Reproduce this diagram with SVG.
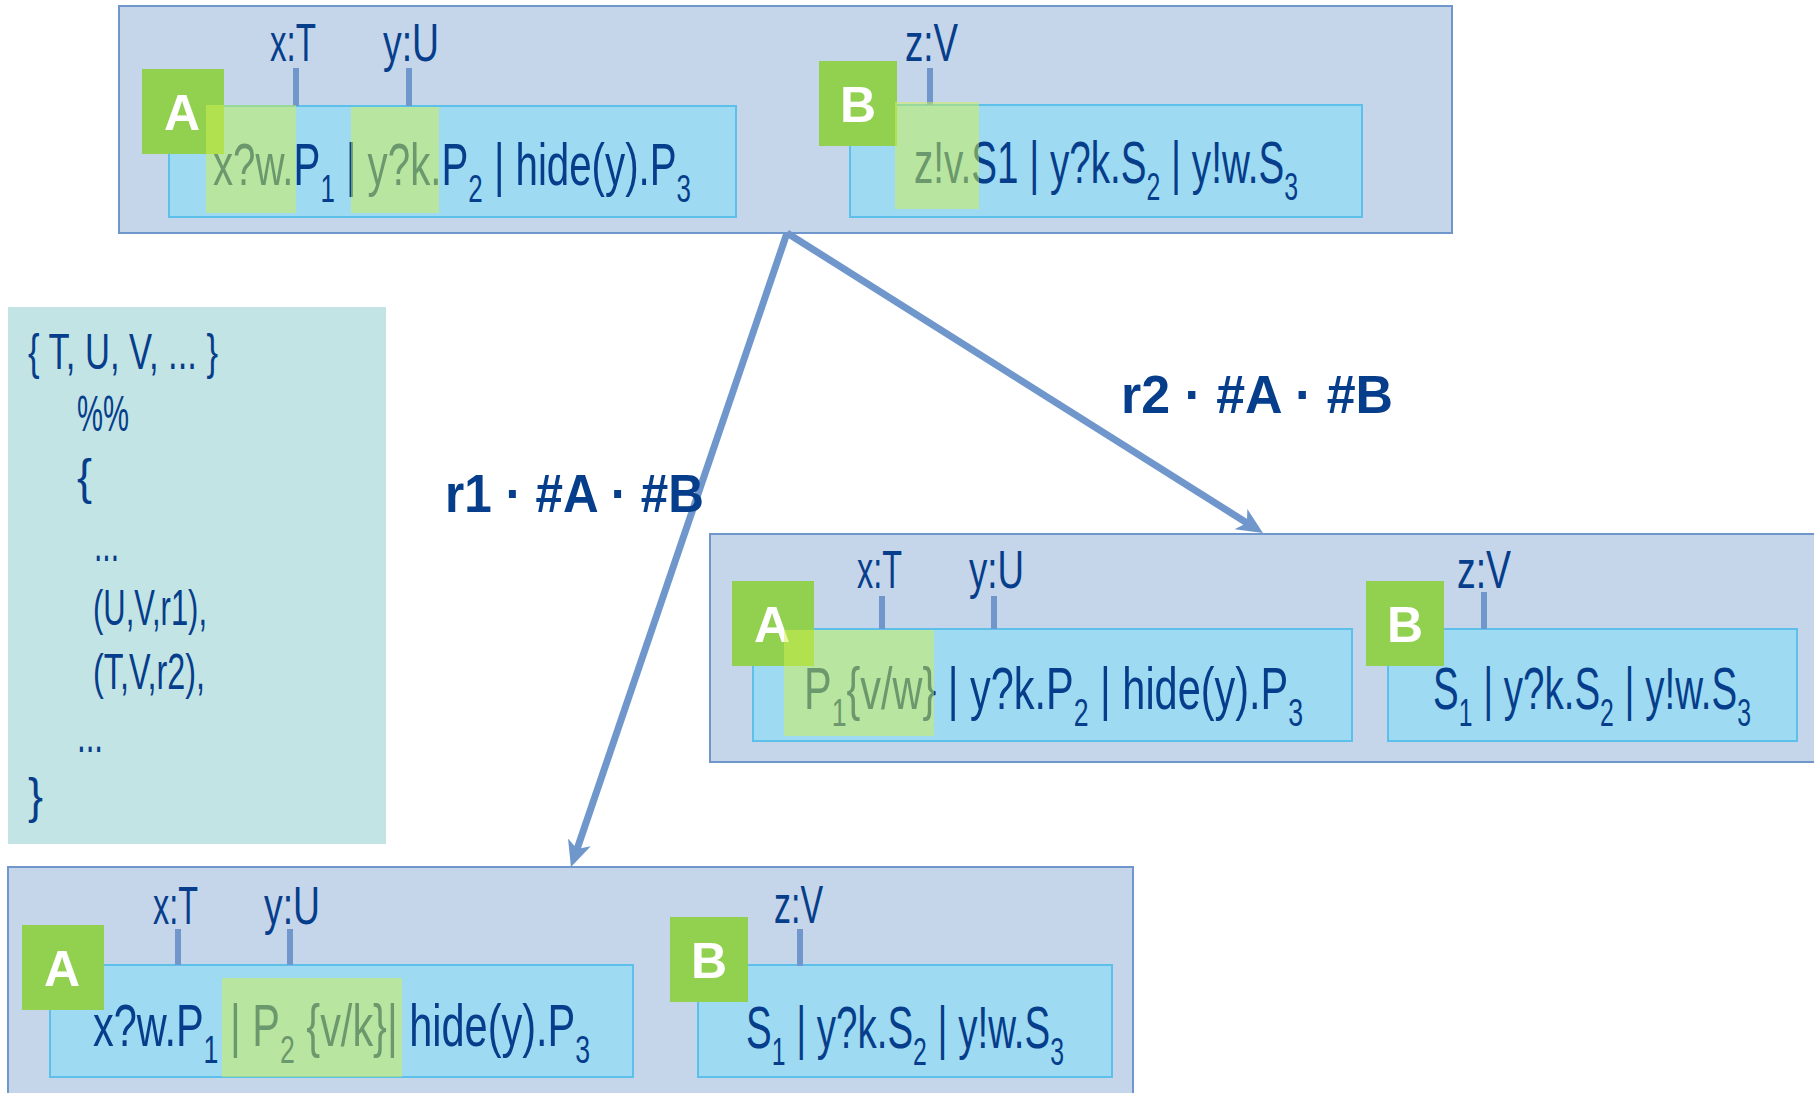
<svg xmlns="http://www.w3.org/2000/svg" width="1814" height="1093" viewBox="0 0 1814 1093">
<style>
.outer{fill:#c5d5ea;stroke:#7097cc;stroke-width:2}
.inner{fill:#9edbf2;stroke:#5cc0ea;stroke-width:2}
.badge{fill:#92d050}
.bl{fill:#ffffff;font-family:"Liberation Sans",Arial,sans-serif;font-weight:bold;font-size:50px;text-anchor:middle}
.hl{fill:#d2f14e;opacity:0.5}
.tick{stroke:#7097cc;stroke-width:6}
.t{fill:#063e8c;font-family:"Liberation Sans",Arial,sans-serif}
.expr{font-size:59px}
.lab{font-size:54px}
.sub{font-size:38px}
.leg{font-size:50px}
.conn{stroke:#7097cc;stroke-width:7;fill:none}
.rl{fill:#063e8c;font-family:"Liberation Sans",Arial,sans-serif;font-weight:bold;font-size:54px}
</style>
<defs>
<marker id="ah" viewBox="0 0 26 26" refX="16" refY="13" markerWidth="26" markerHeight="26" markerUnits="userSpaceOnUse" orient="auto">
<path d="M0,1 L26,13 L0,25 L7,13 Z" fill="#7097cc"/>
</marker>
</defs>

<g id="legend">
<rect x="8" y="307" width="378" height="537" fill="#c3e4e4"/>
<text class="t leg" x="28" y="369" textLength="190" lengthAdjust="spacingAndGlyphs">{ T, U, V,  ... }</text>
<text class="t leg" x="77" y="431" textLength="52" lengthAdjust="spacingAndGlyphs">%%</text>
<text class="t leg" x="77" y="494" textLength="15" lengthAdjust="spacingAndGlyphs">{</text>
<text class="t leg" x="94" y="561" textLength="25" lengthAdjust="spacingAndGlyphs">...</text>
<text class="t leg" x="93" y="625" textLength="114" lengthAdjust="spacingAndGlyphs">(U,V,r1),</text>
<text class="t leg" x="93" y="689" textLength="112" lengthAdjust="spacingAndGlyphs">(T,V,r2),</text>
<text class="t leg" x="77" y="752" textLength="26" lengthAdjust="spacingAndGlyphs">...</text>
<text class="t leg" x="28" y="813" textLength="15" lengthAdjust="spacingAndGlyphs">}</text>
</g>

<g id="state-top">
<rect class="outer" x="119" y="6" width="1333" height="227"/>
<g id="top-A">
<rect class="inner" x="169" y="106" width="567" height="111"/>
<line class="tick" x1="296" y1="68" x2="296" y2="106"/>
<line class="tick" x1="409" y1="68" x2="409" y2="106"/>
<text class="t lab" x="270" y="61" textLength="46" lengthAdjust="spacingAndGlyphs">x:T</text>
<text class="t lab" x="383" y="61" textLength="56" lengthAdjust="spacingAndGlyphs">y:U</text>
<text class="t expr" x="213" y="185" textLength="478" lengthAdjust="spacingAndGlyphs">x?w.P<tspan class="sub" dy="17">1</tspan><tspan dy="-17"> | y?k.P</tspan><tspan class="sub" dy="17">2</tspan><tspan dy="-17"> | hide(y).P</tspan><tspan class="sub" dy="17">3</tspan></text>
<rect class="badge" x="142" y="69" width="82" height="85"/>
<text class="bl" x="182" y="130">A</text>
<rect class="hl" x="206" y="105" width="90" height="108"/>
<rect class="hl" x="351" y="107" width="88" height="106"/>
</g>
<g id="top-B">
<rect class="inner" x="850" y="105" width="512" height="112"/>
<line class="tick" x1="930" y1="68" x2="930" y2="105"/>
<text class="t lab" x="905" y="61" textLength="53" lengthAdjust="spacingAndGlyphs">z:V</text>
<text class="t expr" x="914" y="183" textLength="384" lengthAdjust="spacingAndGlyphs">z!v.S1 | y?k.S<tspan class="sub" dy="17">2</tspan><tspan dy="-17"> | y!w.S</tspan><tspan class="sub" dy="17">3</tspan></text>
<rect class="badge" x="819" y="61" width="78" height="85"/>
<text class="bl" x="858" y="122">B</text>
<rect class="hl" x="895" y="102" width="84" height="107"/>
</g>
</g>

<g id="state-r2">
<rect class="outer" x="710" y="534" width="1120" height="228"/>
<g id="r2-A">
<rect class="inner" x="753" y="629" width="599" height="112"/>
<line class="tick" x1="882" y1="596" x2="882" y2="629"/>
<line class="tick" x1="994" y1="596" x2="994" y2="629"/>
<text class="t lab" x="857" y="588" textLength="45" lengthAdjust="spacingAndGlyphs">x:T</text>
<text class="t lab" x="969" y="588" textLength="55" lengthAdjust="spacingAndGlyphs">y:U</text>
<text class="t expr" x="804" y="709" textLength="499" lengthAdjust="spacingAndGlyphs">P<tspan class="sub" dy="17">1</tspan><tspan dy="-17">{v/w} | y?k.P</tspan><tspan class="sub" dy="17">2</tspan><tspan dy="-17"> | hide(y).P</tspan><tspan class="sub" dy="17">3</tspan></text>
<rect class="badge" x="732" y="581" width="82" height="85"/>
<text class="bl" x="772" y="642">A</text>
<rect class="hl" x="784" y="630" width="150" height="106"/>
</g>
<g id="r2-B">
<rect class="inner" x="1388" y="629" width="409" height="112"/>
<line class="tick" x1="1484" y1="592" x2="1484" y2="629"/>
<text class="t lab" x="1457" y="588" textLength="54" lengthAdjust="spacingAndGlyphs">z:V</text>
<text class="t expr" x="1433" y="709" textLength="318" lengthAdjust="spacingAndGlyphs">S<tspan class="sub" dy="17">1</tspan><tspan dy="-17"> | y?k.S</tspan><tspan class="sub" dy="17">2</tspan><tspan dy="-17"> | y!w.S</tspan><tspan class="sub" dy="17">3</tspan></text>
<rect class="badge" x="1366" y="581" width="78" height="85"/>
<text class="bl" x="1405" y="642">B</text>
</g>
</g>

<g id="state-r1">
<rect class="outer" x="8" y="867" width="1125" height="240"/>
<g id="r1-A">
<rect class="inner" x="50" y="965" width="583" height="112"/>
<line class="tick" x1="178" y1="929" x2="178" y2="965"/>
<line class="tick" x1="290" y1="929" x2="290" y2="965"/>
<text class="t lab" x="153" y="924" textLength="45" lengthAdjust="spacingAndGlyphs">x:T</text>
<text class="t lab" x="264" y="924" textLength="56" lengthAdjust="spacingAndGlyphs">y:U</text>
<text class="t expr" x="93" y="1046" textLength="497" lengthAdjust="spacingAndGlyphs">x?w.P<tspan class="sub" dy="17">1</tspan><tspan dy="-17"> | P</tspan><tspan class="sub" dy="17">2</tspan><tspan dy="-17"> {v/k}| hide(y).P</tspan><tspan class="sub" dy="17">3</tspan></text>
<rect class="badge" x="22" y="925" width="82" height="85"/>
<text class="bl" x="62" y="986">A</text>
<rect class="hl" x="222" y="978" width="180" height="99"/>
</g>
<g id="r1-B">
<rect class="inner" x="698" y="965" width="414" height="112"/>
<line class="tick" x1="800" y1="929" x2="800" y2="966"/>
<text class="t lab" x="774" y="923" textLength="49" lengthAdjust="spacingAndGlyphs">z:V</text>
<text class="t expr" x="746" y="1048" textLength="318" lengthAdjust="spacingAndGlyphs">S<tspan class="sub" dy="17">1</tspan><tspan dy="-17"> | y?k.S</tspan><tspan class="sub" dy="17">2</tspan><tspan dy="-17"> | y!w.S</tspan><tspan class="sub" dy="17">3</tspan></text>
<rect class="badge" x="670" y="917" width="78" height="85"/>
<text class="bl" x="709" y="978">B</text>
</g>
</g>

<g id="connectors">
<path class="conn" d="M787,233 L574.2,857.5" marker-end="url(#ah)"/>
<path class="conn" d="M787,233 L1254.5,527.7" marker-end="url(#ah)"/>
</g>

<g id="labels">
<text class="rl" x="445" y="512" textLength="259" lengthAdjust="spacingAndGlyphs">r1 · #A · #B</text>
<text class="rl" x="1121" y="413" textLength="272" lengthAdjust="spacingAndGlyphs">r2 · #A · #B</text>
</g>
</svg>
